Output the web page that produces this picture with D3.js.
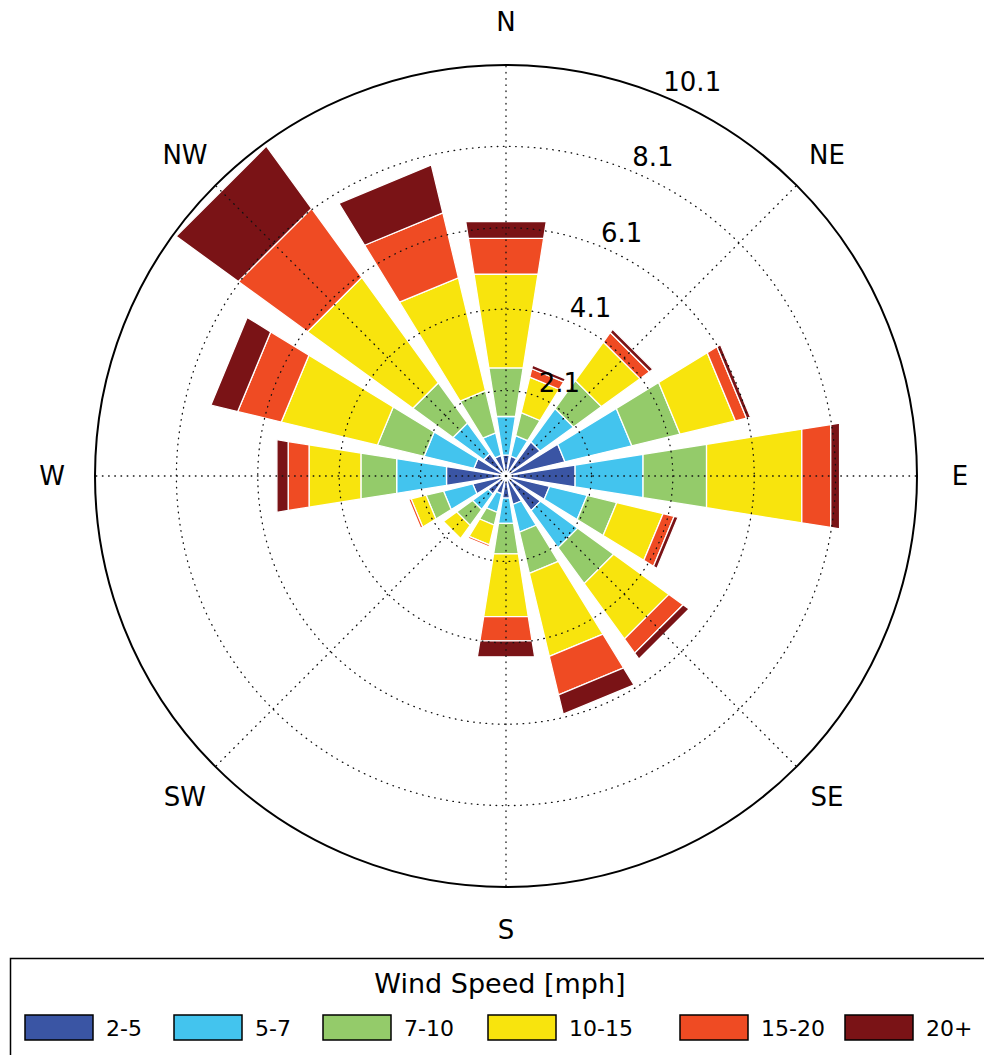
<!DOCTYPE html>
<html>
<head>
<meta charset="utf-8">
<script src="https://cdn.jsdelivr.net/npm/d3@7"></script>
<style>
  html, body { margin: 0; padding: 0; background: #fff; }
  svg { display: block; font-family: "DejaVu Sans", sans-serif; }
</style>
</head>
<body>
<svg id="chart" width="984" height="1055"></svg>
<script>
// Wind directions, clockwise from north
const directions = ["N","NNE","NE","ENE","E","ESE","SE","SSE","S","SSW","SW","WSW","W","WNW","NW","NNW"];
// Speed classes (mph)
const speedBins = ["2-5","5-7","7-10","10-15","15-20","20+"];
// Frequency (%) per direction for each speed class
const speed2to5   = [0.52, 0.50, 1.04, 1.49, 1.72, 1.10, 1.05, 0.72, 0.55, 0.45, 0.55, 0.84, 1.48, 0.81, 0.68, 0.52];
const speed5to7   = [0.96, 0.52, 1.01, 1.69, 1.69, 0.95, 1.13, 0.70, 0.63, 0.47, 0.47, 0.74, 1.24, 1.26, 0.93, 0.57];
const speed7to10  = [1.21, 0.58, 0.85, 1.22, 1.58, 0.75, 1.09, 1.04, 0.76, 0.32, 0.48, 0.44, 0.89, 1.18, 1.22, 1.07];
const speed10to15 = [2.33, 0.90, 1.17, 1.40, 2.37, 1.17, 1.68, 2.10, 1.56, 0.50, 0.40, 0.38, 1.29, 2.43, 3.20, 2.85];
const speed15to20 = [0.89, 0.21, 0.29, 0.28, 0.72, 0.28, 0.43, 0.97, 0.60, 0.05, 0.00, 0.06, 0.52, 1.10, 2.10, 1.64];
const speed20plus = [0.42, 0.09, 0.10, 0.10, 0.22, 0.10, 0.18, 0.49, 0.40, 0.00, 0.00, 0.00, 0.28, 0.68, 1.89, 1.21];
const binColors = ["#3a55a4", "#43c4ee", "#94cb6a", "#f8e40d", "#ef4b23", "#7a1316"];
// Radial grid values and compass labels
const radialTicks = [2.1, 4.1, 6.1, 8.1, 10.1];
const compassLabels = ["N","NE","E","SE","S","SW","W","NW"];
const legendTitle = "Wind Speed [mph]";

const seriesValues = [speed2to5, speed5to7, speed7to10, speed10to15, speed15to20, speed20plus];
const table = directions.map((d, i) => {
  const row = { dir: d, index: i };
  speedBins.forEach((b, j) => { row[b] = seriesValues[j][i]; });
  return row;
});

const svg = d3.select("#chart");
const cx = 506, cy = 476, outerR = 411;
const rScale = d3.scaleLinear().domain([0, 10.1]).range([0, outerR]);
const angScale = d3.scaleLinear().domain([0, directions.length]).range([0, 2 * Math.PI]);
const halfWidth = (Math.PI / directions.length) * 0.8;

const pt = (theta, r) => [cx + r * Math.sin(theta), cy - r * Math.cos(theta)];
const poly = d3.line();

const stacked = d3.stack().keys(speedBins)(table);

// Bars: straight-edged wedges stacked outward
const barG = svg.append("g");
stacked.forEach((layer, j) => {
  barG.selectAll(null)
    .data(layer.filter(d => d[1] - d[0] > 0))
    .join("path")
    .attr("d", d => {
      const th = angScale(d.data.index);
      const r0 = rScale(d[0]), r1 = rScale(d[1]);
      return poly([pt(th - halfWidth, r0), pt(th + halfWidth, r0), pt(th + halfWidth, r1), pt(th - halfWidth, r1)]) + "Z";
    })
    .attr("fill", binColors[j])
    .attr("stroke", "#fff")
    .attr("stroke-width", 1.3)
    .attr("stroke-linejoin", "miter");
});

// Dotted grid on top of the bars
const gridG = svg.append("g")
  .attr("fill", "none")
  .attr("stroke", "#111")
  .attr("stroke-width", 1.3)
  .attr("stroke-linecap", "round")
  .attr("stroke-dasharray", "0.6,5.6");
gridG.selectAll("circle")
  .data(radialTicks.slice(0, -1))
  .join("circle")
  .attr("cx", cx).attr("cy", cy)
  .attr("r", d => rScale(d));
gridG.selectAll("line")
  .data(d3.range(8))
  .join("line")
  .attr("x1", cx).attr("y1", cy)
  .attr("x2", d => pt(d * Math.PI / 4, outerR)[0])
  .attr("y2", d => pt(d * Math.PI / 4, outerR)[1]);

// Outer frame
svg.append("circle")
  .attr("cx", cx).attr("cy", cy).attr("r", outerR)
  .attr("fill", "none").attr("stroke", "#000").attr("stroke-width", 2);

// Radial tick labels along 22.5 degrees
svg.append("g").selectAll("text")
  .data(radialTicks)
  .join("text")
  .attr("x", d => pt(Math.PI / 8, rScale(d))[0])
  .attr("y", d => pt(Math.PI / 8, rScale(d))[1] - 5)
  .attr("font-size", 26)
  .attr("fill", "#000")
  .text(d => d.toFixed(1));

// Compass labels
svg.append("g").selectAll("text")
  .data(compassLabels)
  .join("text")
  .attr("x", (d, i) => pt(i * Math.PI / 4, 454)[0])
  .attr("y", (d, i) => pt(i * Math.PI / 4, 454)[1])
  .attr("text-anchor", "middle")
  .attr("dominant-baseline", "central")
  .attr("font-size", 26)
  .attr("fill", "#000")
  .text(d => d);

// Legend
const lg = svg.append("g");
lg.append("rect")
  .attr("x", 10.5).attr("y", 958.5).attr("width", 1000).attr("height", 120)
  .attr("fill", "#fff").attr("stroke", "#000").attr("stroke-width", 1.5);
lg.append("text")
  .attr("x", 500).attr("y", 993)
  .attr("text-anchor", "middle")
  .attr("font-size", 27)
  .text(legendTitle);
const itemX = [25, 174, 323, 488, 680, 845];
const items = lg.selectAll("g.item")
  .data(speedBins)
  .join("g")
  .attr("class", "item")
  .attr("transform", (d, i) => `translate(${itemX[i]},1015)`);
items.append("rect")
  .attr("width", 68).attr("height", 25)
  .attr("fill", (d, i) => binColors[i])
  .attr("stroke", "#000").attr("stroke-width", 1.5);
items.append("text")
  .attr("x", 81).attr("y", 21)
  .attr("font-size", 22)
  .text(d => d);
</script>
</body>
</html>
